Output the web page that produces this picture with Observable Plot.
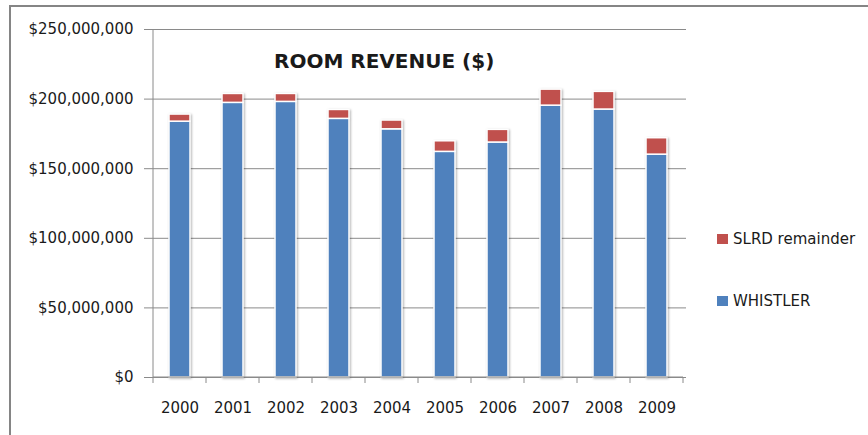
<!DOCTYPE html>
<html><head><meta charset="utf-8">
<script src="https://cdn.jsdelivr.net/npm/d3@7"></script>
<script src="https://cdn.jsdelivr.net/npm/@observablehq/plot@0.6"></script>
<style>
body{margin:0;background:#fff;}
#wrap{position:relative;width:868px;height:435px;overflow:hidden;font-family:"DejaVu Sans",sans-serif;color:#1a1a1a;}
#border{position:absolute;left:9px;top:5px;width:900px;height:500px;border-left:2px solid #858585;border-top:2px solid #858585;}
#chart{position:absolute;left:0;top:0;}
#title{position:absolute;left:274px;top:49px;font-weight:bold;font-size:20px;line-height:24px;white-space:nowrap;}
.leg{position:absolute;left:717px;font-size:15px;white-space:nowrap;display:flex;align-items:center;}
.sw{display:inline-block;width:11px;height:10px;margin-right:5px;}
</style>
</head><body>
<div id="wrap">
  <div id="border"></div>
  <div id="chart"></div>
  <div id="title"></div>
  <div id="legend"></div>
</div>
<script>
const years = ["2000","2001","2002","2003","2004","2005","2006","2007","2008","2009"];
const whistler = [183.8e6,197.3e6,198.0e6,185.8e6,178.3e6,162.1e6,168.8e6,195.3e6,192.5e6,160.1e6];
const slrdRemainder = [5.1e6,6.4e6,5.7e6,6.4e6,6.3e6,7.6e6,9.1e6,11.5e6,12.7e6,11.8e6];
const seriesNames = ["WHISTLER","SLRD remainder"];
const seriesColors = ["#4F81BD","#C0504D"];
const legendOrder = ["SLRD remainder","WHISTLER"];
const yTicks = [0,50e6,100e6,150e6,200e6,250e6];
const titleText = "ROOM REVENUE ($)";

const rows = years.flatMap((yr,i)=>[
  {year:yr, series:seriesNames[0], value:whistler[i]},
  {year:yr, series:seriesNames[1], value:slrdRemainder[i]}
]);

const plot = Plot.plot({
  width:868, height:435,
  marginLeft:150, marginRight:182, marginTop:29, marginBottom:58,
  style:{fontFamily:"DejaVu Sans, sans-serif", fontSize:"15px", color:"#1a1a1a", background:"transparent", overflow:"visible"},
  x:{domain:years, paddingInner:0.6, paddingOuter:0.3, label:null, axis:null},
  y:{domain:[0,250e6], label:null, axis:null},
  color:{domain:seriesNames, range:seriesColors},
  marks:[
    Plot.ruleY(yTicks,{stroke:"#8a8a8a", strokeWidth:1}),
    Plot.barY(rows,{x:"year", y:"value", fill:"series", stroke:"white", strokeWidth:1.5}),
    Plot.axisY({ticks:yTicks, tickFormat:d3.format("$,"), tickSize:6, tickPadding:11, stroke:"#8a8a8a", fill:"#1a1a1a", label:null}),
    Plot.axisX({tickSize:0, tickPadding:25, fill:"#1a1a1a", label:null})
  ]
});
document.getElementById("chart").appendChild(plot);

// axis lines and category boundary ticks from the plot's own scales
const xs = plot.scale("x"), ys = plot.scale("y");
const y0 = ys.apply(0), yTop = ys.apply(250e6);
const bounds = years.map(d => xs.apply(d) + xs.bandwidth/2 - xs.step/2);
bounds.push(bounds[bounds.length-1] + xs.step);
const g = d3.select(plot).append("g").attr("stroke","#8a8a8a").attr("stroke-width",1);
g.append("line").attr("x1",bounds[0]).attr("x2",bounds[0]).attr("y1",yTop).attr("y2",y0);
g.append("line").attr("x1",bounds[0]).attr("x2",bounds[bounds.length-1]).attr("y1",y0).attr("y2",y0);
g.selectAll(".bt").data(bounds).join("line").attr("x1",d=>d).attr("x2",d=>d).attr("y1",y0).attr("y2",y0+6);
d3.select(plot).selectAll("g[aria-label='bar']").style("filter","drop-shadow(1px 1px 1.2px rgba(0,0,0,0.3))");

document.getElementById("title").textContent = titleText;
const leg = document.getElementById("legend");
legendOrder.forEach((name,i)=>{
  const div = document.createElement("div");
  div.className = "leg";
  div.style.top = (i===0 ? 230 : 292) + "px";
  const sw = document.createElement("span");
  sw.className = "sw";
  sw.style.background = seriesColors[seriesNames.indexOf(name)];
  div.appendChild(sw);
  div.appendChild(document.createTextNode(name));
  leg.appendChild(div);
});
</script>
</body></html>
